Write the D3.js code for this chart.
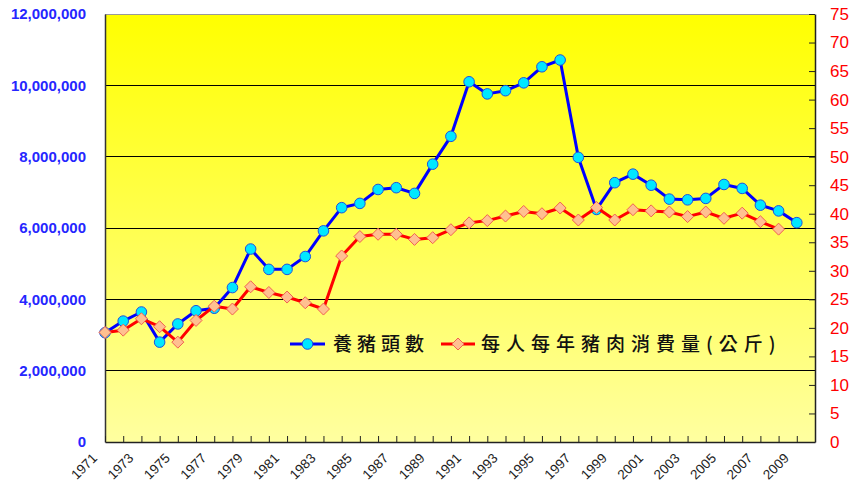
<!DOCTYPE html>
<html>
<head>
<meta charset="utf-8">
<script src="https://cdn.jsdelivr.net/npm/d3@7/dist/d3.min.js"></script>
<style>
  html, body { margin: 0; padding: 0; background: #ffffff; }
  svg { display: block; }
</style>
</head>
<body>
<svg id="chart" width="855" height="494"></svg>
<script>
// ---- data ----
const years = d3.range(1971, 2011); // 1971 .. 2010
const pigCount = [
  3065000, 3390000, 3645000, 2800000, 3310000, 3680000, 3750000, 4330000, 5410000, 4840000,
  4840000, 5200000, 5920000, 6570000, 6690000, 7080000, 7130000, 6970000, 7790000, 8570000,
  10100000, 9760000, 9850000, 10070000, 10520000, 10710000, 7980000, 6520000, 7270000, 7510000,
  7200000, 6810000, 6790000, 6830000, 7220000, 7110000, 6640000, 6480000, 6150000, null
];
const porkPerCapita = [
  19.2, 19.6, 21.6, 20.2, 17.5, 21.3, 23.8, 23.3, 27.2, 26.2,
  25.4, 24.4, 23.3, 32.6, 36.0, 36.4, 36.4, 35.5, 35.8, 37.2,
  38.4, 38.8, 39.6, 40.4, 40.0, 41.0, 38.9, 41.1, 38.9, 40.7,
  40.5, 40.3, 39.5, 40.3, 39.2, 40.1, 38.6, 37.3, null, null
];
const leftTicks = [0, 2000000, 4000000, 6000000, 8000000, 10000000, 12000000];
const rightTicks = d3.range(0, 80, 5);
const xLabelYears = years.filter(y => y % 2 === 1);
const seriesNames = ["養豬頭數", "每人每年豬肉消費量(公斤)"];

// ---- layout ----
const svg = d3.select("#chart");
const L = 105, R = 815, T = 14, B = 442;

const x = d3.scalePoint().domain(years).range([L, R]).padding(0);
const yL = d3.scaleLinear().domain([0, 12000000]).range([B, T]);
const yR = d3.scaleLinear().domain([0, 75]).range([B, T]);

// background gradient
const defs = svg.append("defs");
const grad = defs.append("linearGradient").attr("id", "bg").attr("x1", 0).attr("y1", 0).attr("x2", 0).attr("y2", 1);
grad.append("stop").attr("offset", "0%").attr("stop-color", "#FFFF00");
grad.append("stop").attr("offset", "100%").attr("stop-color", "#FFFFA0");

svg.append("rect").attr("x", L).attr("y", T).attr("width", R - L).attr("height", B - T).attr("fill", "url(#bg)");

// gridlines
svg.append("g").selectAll("line").data(leftTicks.filter(d => d > 0 && d < 12000000)).join("line")
  .attr("x1", L).attr("x2", R).attr("y1", d => yL(d)).attr("y2", d => yL(d))
  .attr("stroke", "#000").attr("stroke-width", 1).attr("shape-rendering", "crispEdges");

// plot border
svg.append("line").attr("x1", L).attr("x2", R).attr("y1", T).attr("y2", T)
  .attr("stroke", "#999").attr("stroke-width", 1).attr("shape-rendering", "crispEdges");

// left axis (no tick marks)
const leftAxis = d3.axisLeft(yL).tickValues(leftTicks).tickSize(0).tickPadding(19)
  .tickFormat(d3.format(","));
const gL = svg.append("g").attr("transform", `translate(${L},0)`).call(leftAxis);
gL.select(".domain").attr("stroke", "#333").attr("stroke-width", 1.5);
gL.selectAll("text").attr("fill", "#2626FF").attr("font-family", "Arial, 'Liberation Sans', sans-serif")
  .attr("font-size", "15px").attr("font-weight", "bold");

// right axis, ticks inward
const rightAxis = d3.axisRight(yR).tickValues(rightTicks).tickSizeInner(-6).tickSizeOuter(0).tickPadding(15);
const gR = svg.append("g").attr("transform", `translate(${R},0)`).call(rightAxis);
gR.select(".domain").attr("stroke", "#222").attr("stroke-width", 1.5);
gR.selectAll(".tick line").attr("stroke", "#222");
gR.selectAll("text").attr("fill", "#FF0000").attr("font-family", "Arial, 'Liberation Sans', sans-serif")
  .attr("font-size", "17px");

// bottom axis, ticks inward
const bottomAxis = d3.axisBottom(x).tickValues(years).tickSizeInner(-6).tickSizeOuter(0).tickFormat("");
const gB = svg.append("g").attr("transform", `translate(0,${B})`).call(bottomAxis);
gB.select(".domain").attr("stroke", "#222").attr("stroke-width", 1.5);
gB.selectAll(".tick line").attr("stroke", "#222");

svg.append("g").selectAll("text").data(xLabelYears).join("text")
  .attr("transform", d => `translate(${x(d) - 7},${B + 17}) rotate(-45)`)
  .attr("text-anchor", "end")
  .attr("font-family", "Arial, 'Liberation Sans', sans-serif")
  .attr("font-size", "13.5px")
  .attr("fill", "#222")
  .text(d => d);

// series data
const blueData = years.map((yr, i) => ({ yr, v: pigCount[i] })).filter(d => d.v != null);
const redData = years.map((yr, i) => ({ yr, v: porkPerCapita[i] })).filter(d => d.v != null);

// pig count (blue)
svg.append("path").datum(blueData)
  .attr("d", d3.line().x(d => x(d.yr)).y(d => yL(d.v)))
  .attr("fill", "none").attr("stroke", "#0000FF").attr("stroke-width", 3).attr("stroke-linejoin", "round");
svg.append("g").selectAll("circle").data(blueData).join("circle")
  .attr("cx", d => x(d.yr)).attr("cy", d => yL(d.v)).attr("r", 5.3)
  .attr("fill", "#00E8FF").attr("stroke", "#1E50E0").attr("stroke-width", 1);

// pork consumption (red)
svg.append("path").datum(redData)
  .attr("d", d3.line().x(d => x(d.yr)).y(d => yR(d.v)))
  .attr("fill", "none").attr("stroke", "#FF0000").attr("stroke-width", 3).attr("stroke-linejoin", "round");
const diamond = s => `M0,${-s}L${s},0L0,${s}L${-s},0Z`;
svg.append("g").selectAll("path").data(redData).join("path")
  .attr("transform", d => `translate(${x(d.yr)},${yR(d.v)})`)
  .attr("d", diamond(6))
  .attr("fill", "#FFC090").attr("stroke", "#F06050").attr("stroke-width", 1);

// legend
const lg = svg.append("g");
const legY = 344;
lg.append("line").attr("x1", 290).attr("x2", 325).attr("y1", legY).attr("y2", legY)
  .attr("stroke", "#0000FF").attr("stroke-width", 3);
lg.append("circle").attr("cx", 307.5).attr("cy", legY).attr("r", 5.3)
  .attr("fill", "#00E8FF").attr("stroke", "#1E50E0").attr("stroke-width", 1);
lg.append("text").attr("x", 333).attr("y", legY + 7)
  .attr("font-family", "'Noto Sans CJK TC', 'Noto Sans CJK SC', sans-serif")
  .attr("font-size", "19px").attr("font-weight", 500).attr("letter-spacing", "5px").attr("fill", "#111")
  .text(seriesNames[0]);
lg.append("line").attr("x1", 441).attr("x2", 475).attr("y1", legY).attr("y2", legY)
  .attr("stroke", "#FF0000").attr("stroke-width", 3);
lg.append("path").attr("transform", `translate(458,${legY})`).attr("d", diamond(6))
  .attr("fill", "#FFC090").attr("stroke", "#F06050").attr("stroke-width", 1);
lg.append("text").attr("x", 481).attr("y", legY + 7)
  .attr("font-family", "'Noto Sans CJK TC', 'Noto Sans CJK SC', sans-serif")
  .attr("font-size", "19px").attr("font-weight", 500).attr("letter-spacing", "6px").attr("fill", "#111")
  .text(seriesNames[1]);
</script>
</body>
</html>
